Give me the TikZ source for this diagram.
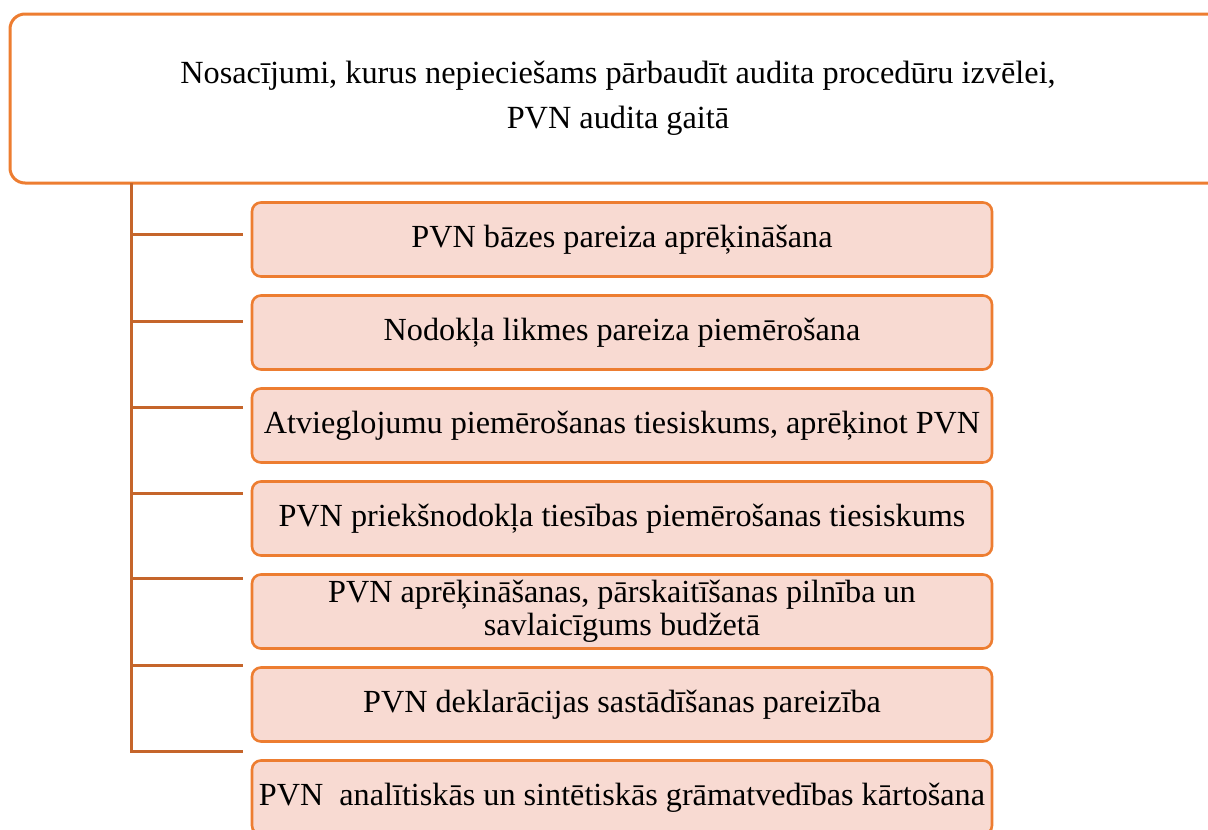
\documentclass[tikz,border=0pt]{standalone}
\usepackage{fontspec}
\setmainfont{Liberation Serif}
\definecolor{boxline}{HTML}{ED7D31}
\definecolor{boxfill}{HTML}{F8DAD2}
\definecolor{conn}{HTML}{C5652A}
\tikzset{
  topbox/.style={draw=boxline, line width=3pt, rounded corners=15pt, fill=white,
    minimum width=1216pt, minimum height=169pt, inner sep=0pt, align=center,
    font=\fontsize{32.3}{45}\selectfont},
  itembox/.style={draw=boxline, line width=2.6pt, rounded corners=9pt, fill=boxfill,
    minimum width=740pt, minimum height=74pt, inner sep=0pt, align=center,
    font=\fontsize{32.2}{33}\selectfont},
  connline/.style={draw=conn, line width=3pt}
}
\begin{document}
\begin{tikzpicture}[x=1pt,y=-1pt]
\useasboundingbox (0,0) rectangle (1208,830);
\clip (0,0) rectangle (1208,830);
\node[topbox] (top) at (618,98.5) {Nosacījumi, kurus nepieciešams pārbaudīt audita procedūru izvēlei,\\PVN audita gaitā};
\node[itembox] (i1) at (622,239.5) {PVN bāzes pareiza aprēķināšana};
\node[itembox] (i2) at (622,332.5) {Nodokļa likmes pareiza piemērošana};
\node[itembox] (i3) at (622,425.5) {Atvieglojumu piemērošanas tiesiskums, aprēķinot PVN};
\node[itembox] (i4) at (622,518.5) {PVN priekšnodokļa tiesības piemērošanas tiesiskums};
\node[itembox] (i5) at (622,611.5) {PVN aprēķināšanas, pārskaitīšanas pilnība un\\savlaicīgums budžetā};
\node[itembox] (i6) at (622,704.5) {PVN deklarācijas sastādīšanas pareizība};
\node[itembox] (i7) at (622,797.5) {PVN\ \ analītiskās un sintētiskās grāmatvedības kārtošana};
\coordinate (s0) at (131,183);
\coordinate (b1) at (243,234);
\coordinate (b2) at (243,321);
\coordinate (b3) at (243,407);
\coordinate (b4) at (243,493);
\coordinate (b5) at (243,578);
\coordinate (b6) at (243,665);
\coordinate (b7) at (243,751);
\draw[connline] (s0) -- (s0 |- b7) -- (b7);
\foreach \b in {b1,b2,b3,b4,b5,b6}{
  \draw[connline] (s0 |- \b) -- (\b);
}
\end{tikzpicture}
\end{document}
